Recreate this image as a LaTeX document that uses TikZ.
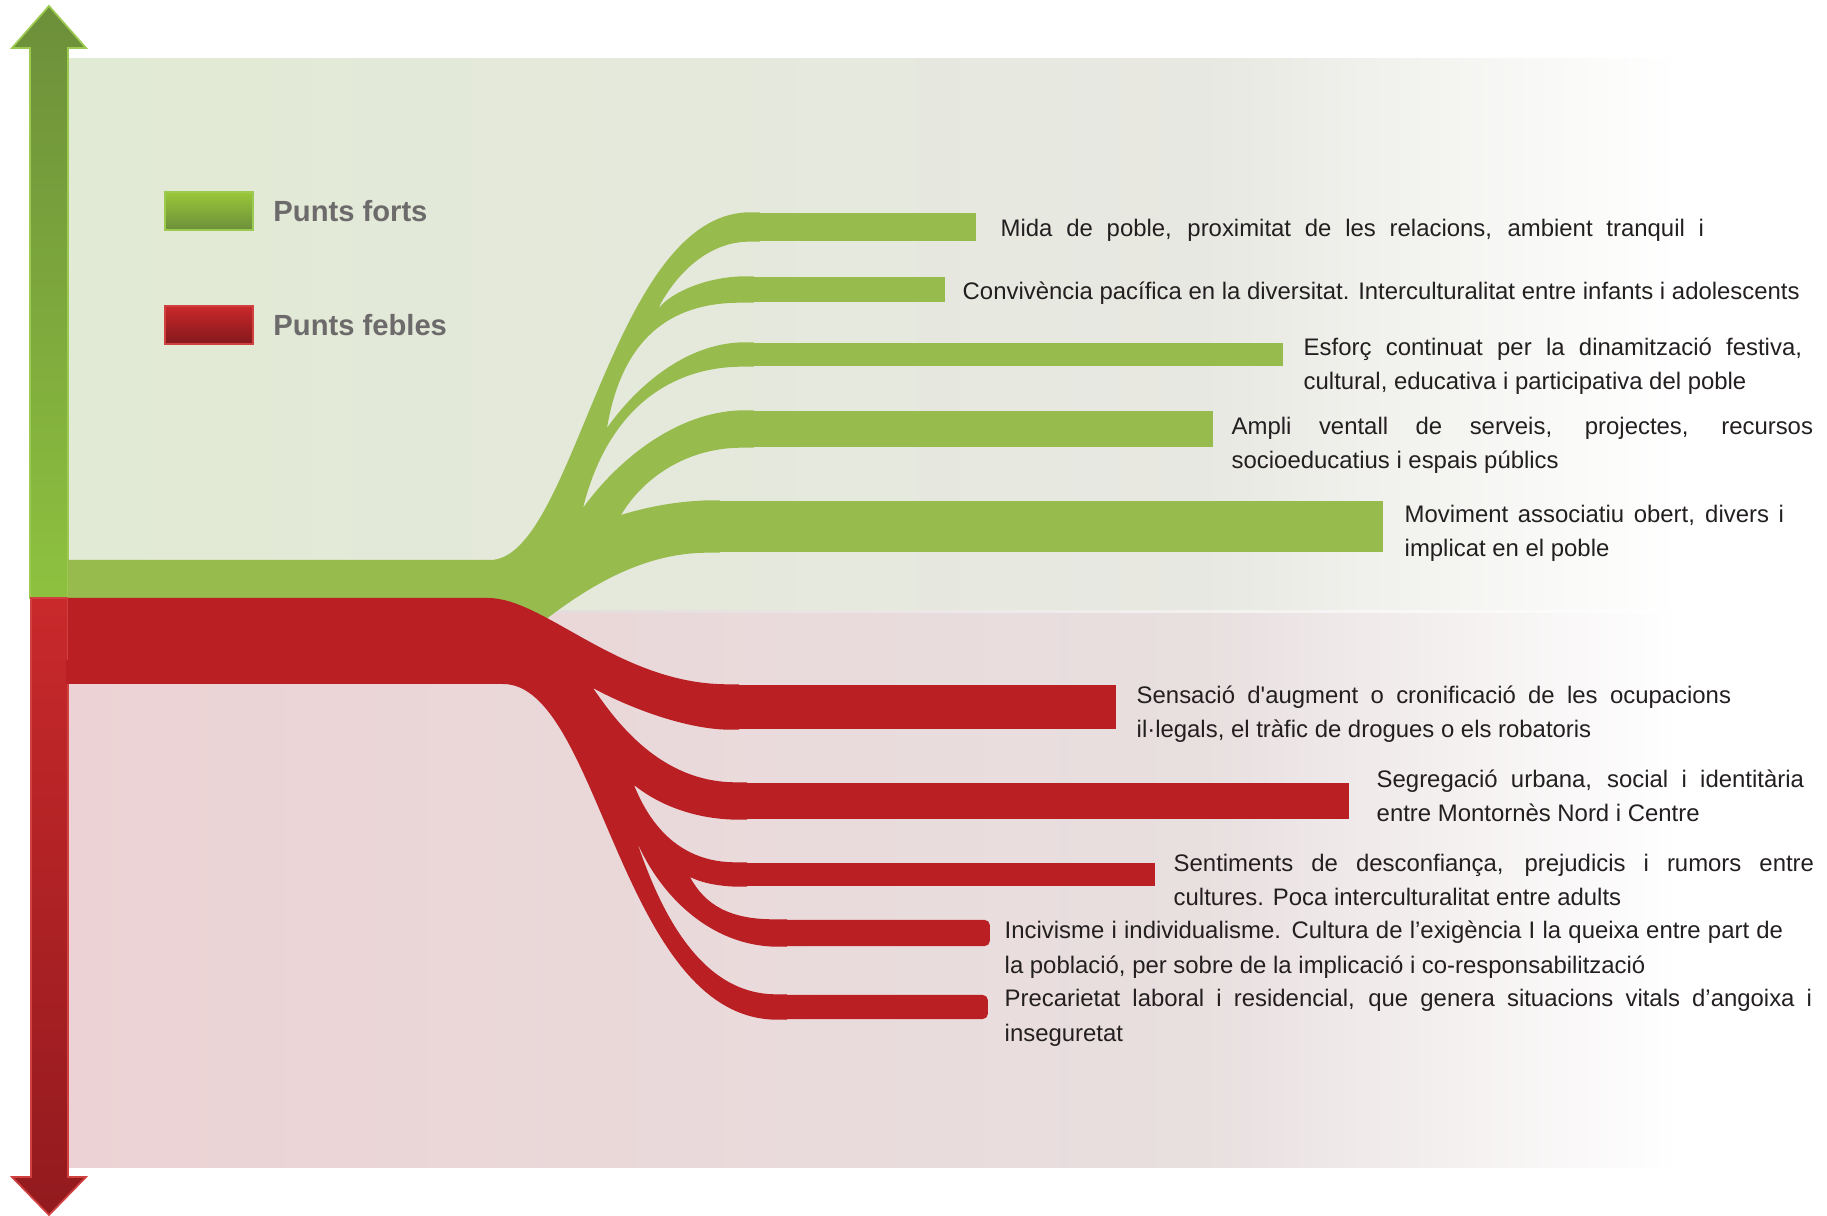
\documentclass[tikz,border=0pt]{standalone}
\usepackage{fontspec}
\setmainfont{Liberation Sans}
\usetikzlibrary{positioning}

\definecolor{gbarc}{HTML}{97BB4D}
\definecolor{rbarc}{HTML}{BA1F24}
\definecolor{gpanA}{HTML}{E1EAD4}
\definecolor{gpanB}{HTML}{E8E8E2}
\definecolor{rpanA}{HTML}{ECD2D4}
\definecolor{rpanB}{HTML}{E8DFDF}
\definecolor{divc}{HTML}{D8CDCC}
\definecolor{txtc}{HTML}{231F20}
\definecolor{legc}{HTML}{6D6A6B}
\definecolor{garrT}{HTML}{6C8F3A}
\definecolor{garrB}{HTML}{8EC13F}
\definecolor{garrE}{HTML}{9CC94F}
\definecolor{rarrT}{HTML}{C9292B}
\definecolor{rarrB}{HTML}{921A1E}
\definecolor{rarrE}{HTML}{D0403F}

\tikzstyle{gbar}   = [fill=gbarc, inner sep=0pt, anchor=west]
\tikzstyle{rbar}   = [fill=rbarc, inner sep=0pt, anchor=west]
\tikzstyle{txt}    = [anchor=base west, inner sep=0pt, align=left, text=txtc,
                      font=\fontsize{6.8}{9.8}\selectfont]
\tikzstyle{legbox} = [minimum width=0.88cm, minimum height=0.38cm, inner sep=0pt, line width=0.4pt]
\tikzstyle{legtxt} = [inner sep=0pt, text=legc, font=\fontsize{8.3}{10}\selectfont\bfseries]

\begin{document}
\begin{tikzpicture}[x=0.01cm,y=-0.01cm]
  \useasboundingbox (0,0) rectangle (1827,1216);
  % panels
  \shade[left color=gpanA, right color=gpanB] (68,59) rectangle (1200,612);
  \shade[left color=gpanB, right color=white] (1200,59) rectangle (1680,612);
  \shade[left color=rpanA, right color=rpanB] (68,612) rectangle (1200,1167);
  \shade[left color=rpanB, right color=white] (1200,612) rectangle (1680,1167);
  \shade[left color=divc, right color=white] (68,611) rectangle (1680,613);

  % axis arrows
  \shade[top color=garrT, bottom color=garrB, draw=garrE, line width=0.5pt]
    (30,598) -- (30,48) -- (12,48) -- (49,6) -- (86,48) -- (68,48) -- (68,598) -- cycle;
  \shade[top color=rarrT, bottom color=rarrB, draw=rarrE, line width=0.5pt]
    (31,598) -- (31,1177) -- (12,1177) -- (49,1215) -- (86,1177) -- (68,1177) -- (68,598) -- cycle;

  % green bars and the flow into them
  \node[gbar, minimum width=2.25cm, minimum height=0.28cm] (g1) at (750,227) {};
  \node[gbar, minimum width=2.00cm, minimum height=0.25cm] (g2) at (744,289.5) {};
  \node[gbar, minimum width=5.38cm, minimum height=0.23cm] (g3) at (744,354.5) {};
  \node[gbar, minimum width=4.68cm, minimum height=0.36cm] (g4) at (744,429) {};
  \node[gbar, minimum width=6.72cm, minimum height=0.51cm] (g5) at (710,526.5) {};
  \coordinate (ga) at (658,309);
  \coordinate (gb) at (607,428);
  \coordinate (gc) at (583,508);
  \coordinate (gd) at (621,515);
  \fill[gbarc] (68,560) -- (490,560)
    .. controls (575,560) and (610,213) .. (g1.north west) -- ++(10,0) |- (g1.south west)
    .. controls (705,241) and (672,280) .. (ga)
    .. controls (670,293) and (705,277) .. (g2.north west) -- ++(10,0) |- (g2.south west)
    .. controls (690,302) and (625,320) .. (gb)
    .. controls (630,395) and (680,343) .. (g3.north west) -- ++(10,0) |- (g3.south west)
    .. controls (680,366) and (610,400) .. (gc)
    .. controls (610,470) and (670,411) .. (g4.north west) -- ++(10,0) |- (g4.south west)
    .. controls (690,447) and (645,475) .. (gd)
    .. controls (650,506) and (680,501) .. (g5.north west) -- ++(10,0) |- (g5.south west)
    .. controls (640,552) and (580,590) .. (520,640) -- (68,640) -- cycle;

  % red bars and the flow into them
  \node[rbar, minimum width=3.86cm, minimum height=0.44cm] (r1) at (729,707) {};
  \node[rbar, minimum width=6.11cm, minimum height=0.36cm] (r2) at (737,801) {};
  \node[rbar, minimum width=4.17cm, minimum height=0.23cm] (r3) at (737,874.5) {};
  \node[rbar, minimum width=2.12cm, minimum height=0.26cm, rounded corners=0.05cm] (r4) at (777,933) {};
  \node[rbar, minimum width=2.10cm, minimum height=0.24cm, rounded corners=0.05cm] (r5) at (777,1007) {};
  \coordinate (ra) at (593,688);
  \coordinate (rb) at (634,785);
  \coordinate (rc) at (690,877);
  \coordinate (rd) at (637,842);
  \fill[rbarc] (68,598) -- (488,598)
    .. controls (545,598) and (620,685) .. (r1.north west) -- ++(10,0) |- (r1.south west)
    .. controls (680,729) and (620,703) .. (ra)
    .. controls (615,720) and (660,783) .. (r2.north west) -- ++(10,0) |- (r2.south west)
    .. controls (690,819) and (655,802) .. (rb)
    .. controls (650,825) and (680,863) .. (r3.north west) -- ++(10,0) |- (r3.south west)
    .. controls (715,886) and (700,882) .. (rc)
    .. controls (705,905) and (730,920) .. (r4.north west) -- ++(10,0) |- (r4.south west)
    .. controls (710,946) and (660,895) .. (rd)
    .. controls (660,910) and (700,995) .. (r5.north west) -- ++(10,0) |- (r5.south west)
    .. controls (620,1019) and (600,684) .. (503,684) -- (66,684) -- (66,660) -- (68,660) -- cycle;

  % legend
  \shade[top color=garrB!90!yellow, bottom color=garrT, draw=garrE, legbox] (165,192) rectangle (253,230);
  \node[legbox] (lgf) at (209,211) {};
  \node[legtxt, right=0.19cm of lgf] (lgft) {Punts forts};
  \shade[top color=rarrT, bottom color=rarrB!90!black, draw=rarrE, legbox] (165,306) rectangle (253,344);
  \node[legbox] (lgw) at (209,325) {};
  \node[legtxt, right=0.19cm of lgw] (lgwt) {Punts febles};

  % labels (multi-line nodes sit on their last baseline)
  \node[txt] (tg1) at (1000,237) {\makebox[7.03cm][s]{Mida de poble, proximitat de les relacions, ambient tranquil i}};
  \node[txt] (tg2) at (962,300) {Convivència pacífica en la diversitat. Interculturalitat entre infants i adolescents};
  \node[txt] (tg3) at (1303,390) {\makebox[4.98cm][s]{Esforç continuat per la dinamització festiva,}\\cultural, educativa i participativa del poble};
  \node[txt] (tg4) at (1231,469) {\makebox[5.81cm][s]{Ampli ventall de serveis, projectes, recursos}\\socioeducatius i espais públics};
  \node[txt] (tg5) at (1404,557) {\makebox[3.79cm][s]{Moviment associatiu obert, divers i}\\implicat en el poble};
  \node[txt] (tr1) at (1136,738) {\makebox[5.94cm][s]{Sensació d\textquotesingle augment o cronificació de les ocupacions}\\il·legals, el tràfic de drogues o els robatoris};
  \node[txt] (tr2) at (1376,822) {\makebox[4.27cm][s]{Segregació urbana, social i identitària}\\entre Montornès Nord i Centre};
  \node[txt] (tr3) at (1173,906) {\makebox[6.40cm][s]{Sentiments de desconfiança, prejudicis i rumors entre}\\cultures. Poca interculturalitat entre adults};
  \node[txt] (tr4) at (1004,973) {\makebox[7.78cm][s]{Incivisme i individualisme. Cultura de l’exigència I la queixa entre part de}\\la població, per sobre de la implicació i co-responsabilització};
  \node[txt] (tr5) at (1004,1041) {\makebox[8.07cm][s]{Precarietat laboral i residencial, que genera situacions vitals d’angoixa i}\\inseguretat};
\end{tikzpicture}
\end{document}
